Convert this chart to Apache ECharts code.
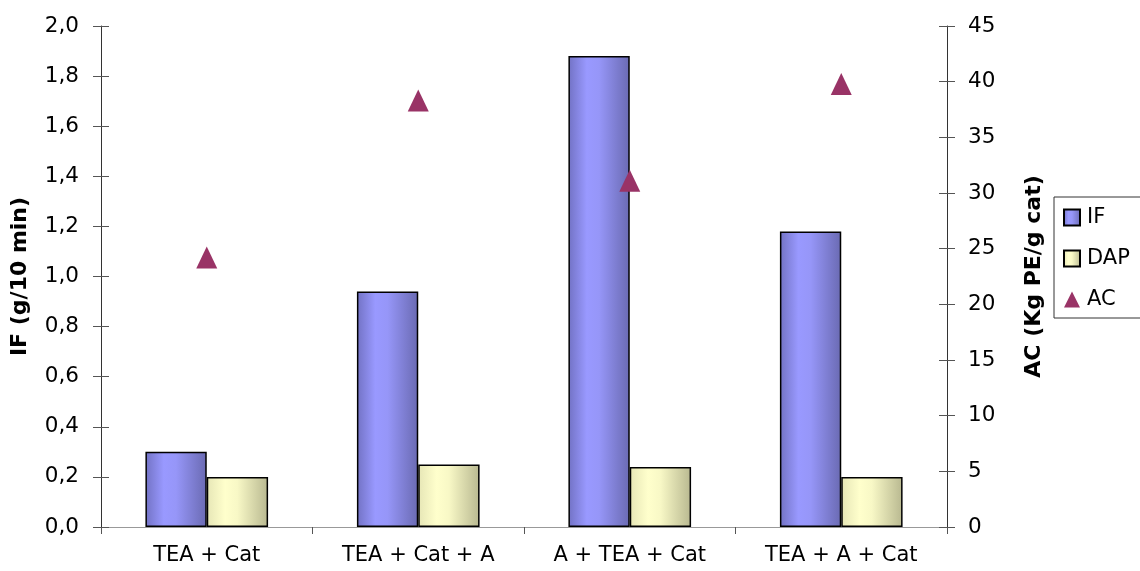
<!DOCTYPE html>
<html>
<head>
<meta charset="utf-8">
<script src="https://cdn.jsdelivr.net/npm/echarts@6/dist/echarts.min.js"></script>
<style>html,body{margin:0;padding:0;background:#fff;}#c{width:1140px;height:571px;}</style>
</head>
<body>
<div id="c"></div>
<script>
const categories = ['TEA + Cat', 'TEA + Cat + A', 'A + TEA + Cat', 'TEA + A + Cat'];
const ifValues = [0.30, 0.94, 1.88, 1.18];
const dapValues = [0.20, 0.25, 0.24, 0.20];
const acValues = [24.2, 38.3, 31.1, 39.8];
const leftTicks = { min: 0, max: 2, interval: 0.2 };
const rightTicks = { min: 0, max: 45, interval: 5 };

const FONT = '"DejaVu Sans", sans-serif';
const chart = echarts.init(document.getElementById('c'), null, { renderer: 'canvas' });

function grad(stops) {
  return { type: 'linear', x: 0, y: 0, x2: 1, y2: 0,
    colorStops: stops.map(s => ({ offset: s[0], color: s[1] })) };
}
const ifColor = grad([[0, '#7272C4'], [0.3, '#9999FF'], [0.5, '#9696F8'], [1, '#6A6AB2']]);
const dapColor = grad([[0, '#E6E6B6'], [0.3, '#FFFFCC'], [0.5, '#F8F8C6'], [1, '#B8B890']]);

const commaFmt = v => v.toFixed(1).replace('.', ',');

const baseY = {
  type: 'value',
  splitLine: { show: false },
  axisLine: { show: true, lineStyle: { color: '#333', width: 1 } },
  axisTick: { show: true, length: 8, lineStyle: { color: '#555' } },
  axisLabel: { color: '#000', fontSize: 21.5, fontFamily: FONT },
  nameTextStyle: { color: '#000', fontSize: 22, fontWeight: 'bold', fontFamily: FONT }
};

const option = {
  animation: false,
  backgroundColor: '#fff',
  grid: { left: 101, right: 193, top: 26, bottom: 44, containLabel: false },
  legend: {
    orient: 'vertical',
    left: 1054,
    top: 197,
    padding: [10, 30, 8, 9],
    itemGap: 20,
    itemWidth: 16,
    itemHeight: 16,
    borderColor: '#333',
    borderWidth: 1,
    backgroundColor: '#fff',
    textStyle: { color: '#000', fontSize: 21, fontFamily: FONT, lineHeight: 21, padding: [0, 0, 0, 2] },
    data: [
      { name: 'IF', icon: 'rect' },
      { name: 'DAP', icon: 'rect' },
      { name: 'AC', icon: 'triangle' }
    ]
  },
  xAxis: [
    {
      type: 'category',
      data: categories,
      boundaryGap: true,
      axisLine: { show: true, lineStyle: { color: '#333', width: 1 } },
      axisTick: { show: true, length: 7, alignWithLabel: false, lineStyle: { color: '#555' } },
      axisLabel: { color: '#000', fontSize: 21, fontFamily: FONT, margin: 18 },
      splitLine: { show: false }
    },
    {
      type: 'category',
      data: categories,
      position: 'top',
      axisLine: { show: true, lineStyle: { color: '#999', width: 1 } },
      axisTick: { show: false },
      axisLabel: { show: false },
      splitLine: { show: false }
    }
  ],
  yAxis: [
    Object.assign({}, baseY, leftTicks, {
      position: 'left',
      name: 'IF (g/10 min)',
      nameLocation: 'middle',
      nameGap: 70,
      nameRotate: 90,
      axisLabel: Object.assign({}, baseY.axisLabel, { margin: 22, formatter: commaFmt })
    }),
    Object.assign({}, baseY, rightTicks, {
      position: 'right',
      name: 'AC (Kg PE/g cat)',
      nameLocation: 'middle',
      nameGap: 76,
      nameRotate: 90,
      axisLabel: Object.assign({}, baseY.axisLabel, { margin: 21 })
    }),
    Object.assign({}, baseY, leftTicks, {
      position: 'left',
      axisLine: { show: false },
      axisTick: { show: true, inside: true, length: 8, lineStyle: { color: '#555' } },
      axisLabel: { show: false }
    }),
    Object.assign({}, baseY, rightTicks, {
      position: 'right',
      axisLine: { show: false },
      axisTick: { show: true, inside: true, length: 8, lineStyle: { color: '#555' } },
      axisLabel: { show: false }
    })
  ],
  series: [
    {
      name: 'IF',
      type: 'bar',
      yAxisIndex: 0,
      data: ifValues,
      barGap: '0%',
      barCategoryGap: '42%',
      itemStyle: { color: ifColor, borderColor: '#000', borderWidth: 1.5 }
    },
    {
      name: 'DAP',
      type: 'bar',
      yAxisIndex: 0,
      data: dapValues,
      barGap: '0%',
      barCategoryGap: '42%',
      itemStyle: { color: dapColor, borderColor: '#000', borderWidth: 1.5 }
    },
    {
      name: 'AC',
      type: 'scatter',
      yAxisIndex: 1,
      data: acValues,
      symbol: 'triangle',
      symbolSize: [21, 22],
      itemStyle: { color: '#993366', opacity: 1 },
      z: 5
    }
  ]
};
chart.setOption(option);
</script>
</body>
</html>
